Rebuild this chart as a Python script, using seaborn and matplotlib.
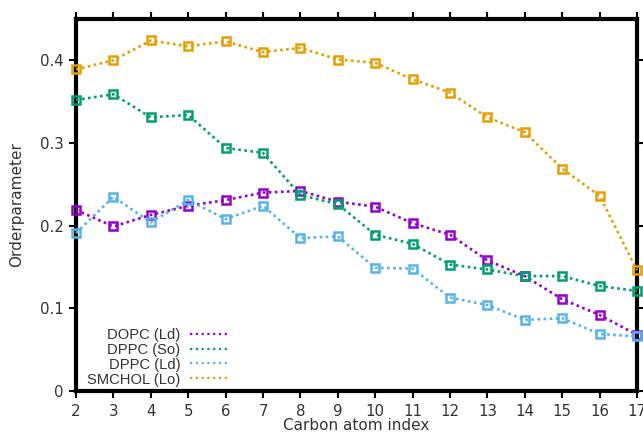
import matplotlib
matplotlib.use("Agg")
import matplotlib.pyplot as plt
import seaborn as sns
import pandas as pd

# Carbon positions along the acyl chain
carbon_index = list(range(2, 18))

# Order parameter per carbon for each lipid / phase
dopc_ld = [0.219, 0.199, 0.213, 0.224, 0.231, 0.240, 0.242, 0.229, 0.223,
           0.203, 0.189, 0.158, 0.139, 0.111, 0.092, 0.068]
dppc_so = [0.352, 0.359, 0.331, 0.334, 0.294, 0.288, 0.237, 0.226, 0.189,
           0.178, 0.153, 0.147, 0.139, 0.139, 0.127, 0.121]
dppc_ld = [0.191, 0.235, 0.204, 0.231, 0.208, 0.224, 0.185, 0.187, 0.149,
           0.148, 0.113, 0.104, 0.086, 0.088, 0.069, 0.066]
smchol_lo = [0.389, 0.400, 0.424, 0.417, 0.423, 0.410, 0.415, 0.401, 0.397,
             0.377, 0.361, 0.331, 0.313, 0.269, 0.236, 0.146]

series_names = ["DOPC (Ld)", "DPPC (So)", "DPPC (Ld)", "SMCHOL (Lo)"]
series_values = [dopc_ld, dppc_so, dppc_ld, smchol_lo]
series_colors = ["#9400d3", "#009e73", "#56b4e9", "#e69f00"]

x_ticks = list(range(2, 18))
y_ticks = [0, 0.1, 0.2, 0.3, 0.4]
y_tick_labels = ["0", "0.1", "0.2", "0.3", "0.4"]

sns.set_theme(style="white")
plt.rcParams["font.family"] = ["DejaVu Sans"]

fig = plt.figure(figsize=(6.43, 4.34), dpi=100)
W, H = 643, 434
ax = fig.add_axes([76 / W, 1 - 391 / H, (637 - 76) / W, (391 - 19) / H])

dot_style = (0, (1, 1.3))
for name, vals, col in zip(series_names, series_values, series_colors):
    df = pd.DataFrame({"carbon": carbon_index, "order": vals})
    sns.lineplot(data=df, x="carbon", y="order", ax=ax, color=col,
                 linestyle=dot_style, linewidth=1.9, marker="s",
                 markersize=5.2, markerfacecolor="none",
                 markeredgecolor=col, markeredgewidth=1.8,
                 label=name, clip_on=False, zorder=3)

ax.set_xlim(2, 17)
ax.set_ylim(0, 0.45)
ax.set_xticks(x_ticks)
ax.set_yticks(y_ticks)
ax.set_yticklabels(y_tick_labels)

for sp in ax.spines.values():
    sp.set_visible(True)
    sp.set_color("black")
    sp.set_linewidth(3.0)

ax.tick_params(axis="both", which="both", direction="out", length=5,
               width=1.5, color="black", labelsize=10.8, labelcolor="#333333",
               top=True, right=True, bottom=True, left=True,
               labeltop=False, labelright=False, pad=4)

ax.set_xlabel("Carbon atom index", fontsize=11, color="#333333", labelpad=0)
ax.set_ylabel("Orderparameter", fontsize=11, color="#333333", labelpad=11)

# Legend: label text on the left, dotted sample line on the right
line_handles = [plt.Line2D([], [], color=col, linestyle=(0, (1, 1.6)),
                           linewidth=1.6) for col in series_colors]
leg = ax.legend(line_handles, series_names, loc="lower right",
                bbox_to_anchor=(0.271, 0.012), frameon=False,
                markerfirst=False, handlelength=2.6, handletextpad=0.65,
                labelspacing=0.06, borderpad=0, borderaxespad=0,
                prop={"family": "Liberation Sans", "size": 10.6})
for t in leg.get_texts():
    t.set_color("#333333")

fig.savefig("out.png", dpi=100)
